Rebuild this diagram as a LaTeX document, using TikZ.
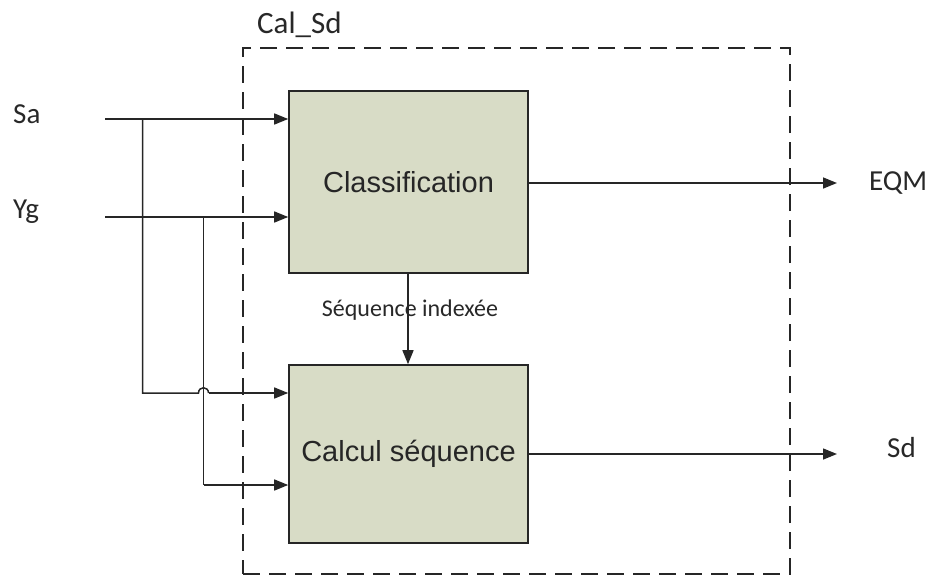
\documentclass[tikz,border=0pt]{standalone}
\usepackage{fontspec}
\newfontfamily\labfont{Carlito}
\newfontfamily\boxfont{Liberation Sans}
\usetikzlibrary{arrows.meta}
\definecolor{boxfill}{RGB}{216,220,198}
\definecolor{txt}{RGB}{40,40,40}
\begin{document}
\begin{tikzpicture}[x=1pt,y=-1pt,
  blk/.style={draw=black!85,line width=1.6pt,fill=boxfill,minimum width=239pt,inner sep=0pt,
     font=\boxfont\fontsize{29}{34}\selectfont,text=black!85},
  lab/.style={font=\labfont\fontsize{29}{33}\selectfont,text=txt,inner sep=0pt},
  wire/.style={line width=1.5pt,draw=black!85},
  arr/.style={wire,-{Triangle[length=14pt,width=11pt]}},
  frame/.style={line width=1.4pt,draw=black!85,dash pattern=on 17pt off 9pt}]
\useasboundingbox (0,0) rectangle (928,576);
\node[frame,minimum width=547pt,minimum height=526pt,inner sep=0pt] (cal) at (516.5,311) {};
\node[lab,anchor=base west,font=\labfont\fontsize{31}{35}\selectfont] (calname) at (257,33) {Cal\_Sd};
\node[blk,minimum height=182pt] (cls) at (408.5,182) {Classification};
\node[blk,minimum height=178pt] (cs) at (408.5,454) {Calcul séquence};
\node[lab,anchor=base west] (sa) at (13,123) {Sa};
\node[lab,anchor=base west] (yg) at (13,218) {Yg};
\node[lab,anchor=base west] (eqm) at (869,190) {EQM};
\node[lab,anchor=base west] (sd) at (887,457) {Sd};
\node[lab,font=\labfont\fontsize{24}{28}\selectfont] (seqlab) at (410,310) {Séquence indexée};
\coordinate (sain) at (105,119);
\coordinate (ygin) at (105,217);
\coordinate (saj) at (142.5,119);
\coordinate (ygj) at (203.5,217);
\coordinate (sabot) at (142.5,393);
\coordinate (ygbot) at (203.5,485);
\coordinate (hopa) at (198.5,393);
\coordinate (hopb) at (208.5,393);
\coordinate (eqmend) at (837,183);
\coordinate (sdend) at (837,454);
\draw[arr] (sain) -- (sain -| cls.west);
\draw[arr] (ygin) -- (ygin -| cls.west);
\draw[wire] (saj) -- (sabot) -- (hopa) .. controls (198.5,386) and (208.5,386) .. (hopb);
\draw[arr] (hopb) -- (hopb -| cs.west);
\draw[wire] (ygj) -- (ygbot);
\draw[arr] (ygbot) -- (ygbot -| cs.west);
\draw[arr] (cls.south -| 408,0) -- (cs.north -| 408,0);
\draw[arr] (cls.east |- eqmend) -- (eqmend);
\draw[arr] (cs.east |- sdend) -- (sdend);
\end{tikzpicture}
\end{document}
